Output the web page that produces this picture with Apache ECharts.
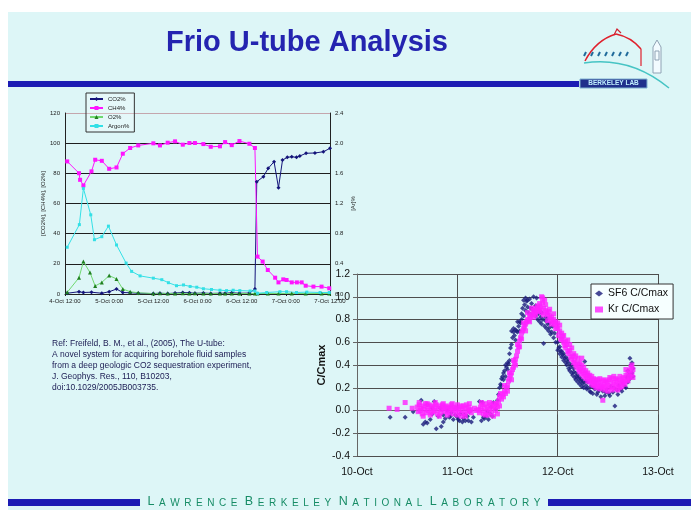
<!DOCTYPE html>
<html>
<head>
<meta charset="utf-8">
<title>Frio U-tube Analysis</title>
<script src="https://cdn.jsdelivr.net/npm/echarts@6/dist/echarts.min.js"></script>
<style>
  html, body { margin: 0; padding: 0; background: #ffffff; }
  #c { width: 691px; height: 510px; }
</style>
</head>
<body>
<div id="c"></div>
<script>
const FONT = '"Liberation Sans", Arial, Helvetica, sans-serif';

// ---- Gas composition from the U-tube, x = hours after 4-Oct 12:00 ----
const gasTickLabels = ['4-Oct 12:00', '5-Oct 0:00', '5-Oct 12:00', '6-Oct 0:00', '6-Oct 12:00', '7-Oct 0:00', '7-Oct 12:00'];

const co2Data = [
  [0.6, 0.5], [3.8, 1.5], [5.0, 1.0], [7.2, 1.2], [10.0, 0.5], [12.0, 1.5], [14.0, 3.3], [15.7, 1.0],
  [17.7, 0.8], [19.9, 0.5], [24.0, 0.3], [25.8, 0.5], [27.9, 0.3], [29.9, 0.6], [32.0, 1.0], [33.8, 0.8],
  [35.3, 0.5], [37.6, 0.6], [39.6, 0.4], [42.1, 0.5], [43.5, 0.5], [45.3, 0.8], [47.4, 0.5], [50.1, 0.6],
  [51.6, 3.3], [52.1, 74.4], [53.9, 77.8], [55.2, 83.3], [56.8, 87.7], [58.0, 70.5], [59.1, 88.8],
  [60.4, 90.6], [61.6, 91.0], [62.9, 90.6], [63.8, 91.5], [65.5, 93.3], [67.9, 93.5], [70.2, 94.3], [72.0, 96.6]
];

const ch4Data = [
  [0.6, 87.9], [3.8, 80.1], [4.1, 75.7], [5.0, 72.0], [7.2, 81.3], [8.2, 89.0], [10.0, 88.3], [12.0, 83.0],
  [14.0, 83.9], [15.7, 93.0], [17.7, 96.8], [19.9, 98.5], [24.0, 99.9], [25.8, 98.5], [27.9, 100.3],
  [29.9, 101.2], [32.0, 99.0], [33.8, 100.1], [35.3, 100.1], [37.6, 99.4], [39.6, 97.6], [42.1, 97.9],
  [43.5, 100.7], [45.3, 98.7], [47.4, 101.4], [50.1, 99.6], [51.6, 96.8], [52.3, 24.8], [53.7, 21.5],
  [55.1, 15.9], [57.1, 10.8], [58.0, 7.7], [59.3, 9.7], [60.2, 9.3], [61.6, 7.7], [63.0, 7.7], [64.3, 7.7],
  [65.4, 5.5], [67.5, 4.9], [69.7, 4.9], [71.8, 3.8]
];

const o2Data = [
  [0.6, 1.1], [3.8, 10.8], [5.0, 21.5], [6.8, 14.2], [8.2, 5.3], [10.0, 7.7], [12.0, 12.2], [14.0, 10.0],
  [15.7, 3.3], [17.7, 1.5], [19.9, 0.8], [24.0, 0.3], [25.8, 0.5], [27.9, 0.3], [29.9, 0.3], [32.0, 0.5],
  [33.8, 0.3], [35.3, 0.5], [37.6, 0.3], [39.6, 0.3], [42.1, 0.4], [43.5, 0.3], [45.3, 0.3], [47.4, 0.4],
  [50.1, 0.3], [51.6, 0.3], [52.3, 0.3], [55.1, 0.4], [58.0, 0.3], [61.6, 0.4], [65.4, 0.3], [69.7, 0.3], [71.8, 0.3]
];

// argon is read on the right-hand (percent) scale
const argonData = [
  [0.6, 0.62], [3.9, 0.92], [5.0, 1.40], [7.0, 1.05], [8.0, 0.72], [10.0, 0.76], [11.8, 0.90], [14.0, 0.65],
  [16.6, 0.41], [18.1, 0.30], [20.4, 0.24], [24.0, 0.21], [26.3, 0.19], [28.1, 0.15], [30.3, 0.11],
  [32.2, 0.12], [34.0, 0.10], [35.8, 0.09], [37.6, 0.07], [39.8, 0.06], [42.1, 0.05], [43.9, 0.045],
  [45.7, 0.05], [47.5, 0.045], [50.3, 0.04], [51.6, 0.04], [52.3, 0.01], [54.8, 0.02], [58.4, 0.03],
  [60.2, 0.03], [62.9, 0.02], [65.7, 0.025], [69.3, 0.02], [71.8, 0.02]
];

// ---- Tracer breakthrough, x = day of October ----
const tracerTickLabels = ['10-Oct', '11-Oct', '12-Oct', '13-Oct'];

const sf6Points = [
  [10.33, -0.06], [10.48, -0.06], [10.56, -0.01], [10.64, 0.09], [10.66, -0.12], [10.68, -0.10], [10.70, 0.05],
  [10.70, -0.11], [10.73, -0.08], [10.75, -0.03], [10.75, 0.02], [10.77, 0.08], [10.79, -0.16], [10.81, -0.05],
  [10.83, 0.02], [10.84, -0.14], [10.86, -0.04], [10.86, -0.10], [10.88, -0.07], [10.90, 0.00], [10.92, -0.06],
  [10.93, -0.05], [10.94, -0.02], [10.96, -0.08], [10.98, -0.04], [11.00, -0.06], [11.01, -0.08], [11.02, -0.09],
  [11.03, -0.03], [11.05, -0.10], [11.06, -0.07], [11.07, -0.04], [11.08, -0.09], [11.10, -0.05], [11.11, -0.09],
  [11.12, -0.01], [11.14, -0.10], [11.16, -0.06], [11.22, 0.08], [11.24, -0.09], [11.25, 0.07], [11.26, -0.06],
  [11.27, -0.07], [11.29, -0.05], [11.30, -0.01], [11.31, -0.08], [11.33, -0.03], [11.34, 0.03], [11.35, -0.05],
  [11.36, 0.07], [11.38, 0.01], [11.39, 0.05], [11.40, 0.09], [11.41, 0.14], [11.42, 0.20], [11.43, 0.23],
  [11.44, 0.28], [11.44, 0.22], [11.45, 0.30], [11.46, 0.27], [11.46, 0.33], [11.47, 0.35], [11.48, 0.40],
  [11.48, 0.30], [11.49, 0.38], [11.50, 0.42], [11.50, 0.36], [11.51, 0.41], [11.52, 0.50], [11.52, 0.44],
  [11.53, 0.55], [11.54, 0.58], [11.54, 0.70], [11.55, 0.64], [11.56, 0.69], [11.56, 0.72], [11.57, 0.66],
  [11.58, 0.71], [11.58, 0.62], [11.59, 0.70], [11.60, 0.69], [11.60, 0.78], [11.61, 0.74], [11.62, 0.78],
  [11.62, 0.70], [11.63, 0.77], [11.64, 0.85], [11.64, 0.80], [11.65, 0.90], [11.66, 0.97], [11.66, 0.83],
  [11.67, 0.93], [11.68, 0.88], [11.68, 0.99], [11.69, 0.96], [11.70, 0.91], [11.70, 0.97], [11.71, 0.86],
  [11.72, 0.98], [11.73, 0.90], [11.74, 0.84], [11.74, 0.94], [11.75, 0.89], [11.76, 1.00], [11.77, 0.87],
  [11.78, 0.83], [11.78, 0.92], [11.79, 0.99], [11.80, 0.80], [11.81, 0.85], [11.82, 0.78], [11.82, 0.88],
  [11.83, 0.82], [11.84, 0.76], [11.84, 0.86], [11.85, 0.80], [11.86, 0.59], [11.87, 0.74], [11.88, 0.79],
  [11.88, 0.82], [11.89, 0.72], [11.90, 0.76], [11.90, 0.81], [11.91, 0.70], [11.92, 0.73], [11.92, 0.77],
  [11.93, 0.67], [11.94, 0.69], [11.95, 0.74], [11.96, 0.64], [11.97, 0.68], [11.98, 0.60], [12.00, 0.53],
  [12.00, 0.60], [12.01, 0.55], [12.02, 0.50], [12.02, 0.56], [12.03, 0.52], [12.04, 0.47], [12.04, 0.52],
  [12.05, 0.49], [12.06, 0.44], [12.06, 0.50], [12.07, 0.46], [12.08, 0.42], [12.08, 0.47], [12.09, 0.40],
  [12.10, 0.43], [12.10, 0.45], [12.11, 0.37], [12.12, 0.35], [12.12, 0.41], [12.13, 0.38], [12.14, 0.33],
  [12.14, 0.40], [12.15, 0.31], [12.16, 0.34], [12.16, 0.37], [12.17, 0.29], [12.18, 0.27], [12.18, 0.33],
  [12.19, 0.30], [12.20, 0.25], [12.20, 0.31], [12.21, 0.28], [12.22, 0.23], [12.22, 0.29], [12.23, 0.26],
  [12.24, 0.21], [12.24, 0.27], [12.25, 0.24], [12.26, 0.20], [12.26, 0.25], [12.27, 0.43], [12.28, 0.22],
  [12.28, 0.26], [12.29, 0.19], [12.30, 0.25], [12.30, 0.20], [12.32, 0.17], [12.33, 0.21], [12.33, 0.16],
  [12.35, 0.15], [12.36, 0.20], [12.37, 0.19], [12.39, 0.14], [12.40, 0.16], [12.41, 0.18], [12.43, 0.12],
  [12.44, 0.20], [12.45, 0.17], [12.47, 0.13], [12.48, 0.16], [12.49, 0.19], [12.51, 0.15], [12.52, 0.13],
  [12.53, 0.21], [12.55, 0.16], [12.56, 0.20], [12.57, 0.04], [12.59, 0.18], [12.60, 0.14], [12.61, 0.22],
  [12.63, 0.19], [12.64, 0.17], [12.65, 0.24], [12.67, 0.21], [12.68, 0.20], [12.69, 0.29], [12.70, 0.35],
  [12.70, 0.25], [12.71, 0.31], [12.72, 0.46], [12.72, 0.28], [12.73, 0.40], [12.74, 0.33], [12.74, 0.42],
  [12.75, 0.37], [12.75, 0.30]
];

const krPoints = [
  [10.32, 0.02], [10.40, 0.01], [10.48, 0.07], [10.55, 0.02],
  [10.60, 0.03], [10.61, -0.01], [10.62, 0.05], [10.62, 0.07], [10.63, 0.00], [10.64, 0.02], [10.65, -0.03],
  [10.66, 0.04], [10.66, -0.05], [10.67, 0.01], [10.68, 0.06], [10.69, -0.02], [10.70, 0.03], [10.70, 0.06],
  [10.71, 0.00], [10.72, 0.05], [10.73, -0.04], [10.74, 0.02], [10.74, -0.02], [10.75, 0.04], [10.76, -0.01],
  [10.77, 0.03], [10.78, 0.00], [10.78, 0.07], [10.79, 0.05], [10.80, -0.03], [10.81, 0.02], [10.82, 0.04],
  [10.82, -0.05], [10.83, -0.02], [10.84, 0.01], [10.85, 0.05], [10.86, 0.03], [10.86, 0.06], [10.87, -0.01],
  [10.88, 0.02], [10.89, 0.04], [10.90, 0.00], [10.90, -0.04], [10.91, 0.03], [10.92, -0.02], [10.93, 0.02],
  [10.94, 0.05], [10.95, 0.01], [10.95, 0.06], [10.96, -0.03], [10.97, 0.03], [10.98, 0.00], [10.99, 0.02],
  [11.00, -0.04], [11.00, 0.05], [11.01, 0.01], [11.02, -0.02], [11.03, 0.03], [11.04, -0.05], [11.04, 0.04],
  [11.05, 0.00], [11.06, 0.04], [11.07, -0.03], [11.08, 0.02], [11.08, -0.05], [11.09, 0.05], [11.10, -0.01],
  [11.11, 0.03], [11.12, 0.06], [11.12, 0.00], [11.13, 0.01], [11.14, -0.02], [11.17, 0.02], [11.19, 0.00],
  [11.21, 0.01], [11.22, -0.02], [11.23, 0.03], [11.24, 0.00], [11.24, 0.07], [11.25, 0.05], [11.26, -0.03],
  [11.27, 0.02], [11.28, 0.06], [11.28, -0.04], [11.29, -0.01], [11.30, 0.03], [11.31, -0.04], [11.32, 0.01],
  [11.32, 0.07], [11.33, 0.05], [11.34, -0.02], [11.35, 0.02], [11.36, -0.05], [11.36, 0.06], [11.37, 0.04],
  [11.38, 0.00], [11.39, 0.06], [11.40, 0.03], [11.40, -0.03], [11.41, 0.08], [11.42, 0.12], [11.42, 0.04],
  [11.43, 0.15], [11.44, 0.10], [11.45, 0.14], [11.46, 0.12], [11.47, 0.17], [11.47, 0.22], [11.48, 0.15],
  [11.49, 0.20], [11.50, 0.22], [11.50, 0.17], [11.51, 0.26], [11.52, 0.28], [11.52, 0.33], [11.53, 0.31],
  [11.54, 0.33], [11.54, 0.27], [11.55, 0.36], [11.56, 0.38], [11.56, 0.44], [11.57, 0.42], [11.58, 0.45],
  [11.58, 0.40], [11.59, 0.48], [11.60, 0.52], [11.60, 0.58], [11.61, 0.56], [11.62, 0.61], [11.62, 0.56],
  [11.63, 0.64], [11.64, 0.68], [11.64, 0.63], [11.65, 0.70], [11.66, 0.72], [11.66, 0.77], [11.67, 0.74],
  [11.68, 0.76], [11.68, 0.70], [11.69, 0.78], [11.70, 0.80], [11.70, 0.86], [11.71, 0.79], [11.72, 0.83],
  [11.72, 0.78], [11.73, 0.82], [11.74, 0.85], [11.74, 0.90], [11.75, 0.84], [11.76, 0.88], [11.76, 0.82],
  [11.77, 0.86], [11.78, 0.90], [11.78, 0.84], [11.79, 0.88], [11.80, 0.92], [11.80, 0.87], [11.81, 0.90],
  [11.82, 0.94], [11.82, 0.88], [11.83, 0.91], [11.84, 1.00], [11.84, 0.86], [11.85, 0.95], [11.85, 0.99],
  [11.86, 0.90], [11.86, 0.84], [11.87, 0.97], [11.88, 0.88], [11.88, 0.93], [11.89, 0.86], [11.90, 0.84],
  [11.90, 0.79], [11.91, 0.87], [11.92, 0.83], [11.92, 0.89], [11.93, 0.80], [11.94, 0.82], [11.94, 0.76],
  [11.95, 0.78], [11.96, 0.80], [11.96, 0.85], [11.97, 0.76], [11.98, 0.78], [11.98, 0.72], [11.99, 0.74],
  [12.00, 0.72], [12.00, 0.77], [12.01, 0.66], [12.02, 0.70], [12.02, 0.75], [12.03, 0.63], [12.04, 0.62],
  [12.04, 0.68], [12.05, 0.65], [12.06, 0.60], [12.06, 0.66], [12.07, 0.57], [12.08, 0.55], [12.08, 0.61],
  [12.09, 0.58], [12.10, 0.52], [12.10, 0.62], [12.11, 0.50], [12.12, 0.53], [12.12, 0.58], [12.13, 0.47],
  [12.14, 0.45], [12.14, 0.55], [12.15, 0.48], [12.16, 0.42], [12.16, 0.50], [12.17, 0.44], [12.18, 0.40],
  [12.18, 0.48], [12.19, 0.38], [12.20, 0.41], [12.20, 0.46], [12.21, 0.36], [12.22, 0.34], [12.22, 0.42],
  [12.23, 0.37], [12.24, 0.46], [12.24, 0.32], [12.24, 0.40], [12.25, 0.35], [12.26, 0.30], [12.26, 0.38],
  [12.27, 0.33], [12.28, 0.28], [12.28, 0.35], [12.29, 0.31], [12.30, 0.26], [12.30, 0.33], [12.31, 0.29],
  [12.32, 0.25], [12.32, 0.31], [12.33, 0.27], [12.34, 0.23], [12.34, 0.30], [12.35, 0.26], [12.36, 0.22],
  [12.36, 0.28], [12.37, 0.24], [12.38, 0.20], [12.38, 0.27], [12.39, 0.23], [12.40, 0.21], [12.40, 0.27],
  [12.41, 0.25], [12.42, 0.19], [12.42, 0.28], [12.43, 0.22], [12.44, 0.26], [12.44, 0.21], [12.45, 0.09],
  [12.45, 0.20], [12.46, 0.23], [12.46, 0.27], [12.47, 0.18], [12.48, 0.21], [12.48, 0.26], [12.49, 0.25],
  [12.50, 0.22], [12.50, 0.17], [12.51, 0.27], [12.52, 0.20], [12.52, 0.29], [12.53, 0.24], [12.54, 0.28],
  [12.54, 0.18], [12.55, 0.21], [12.56, 0.25], [12.56, 0.30], [12.57, 0.19], [12.58, 0.23], [12.58, 0.28],
  [12.59, 0.27], [12.60, 0.22], [12.60, 0.18], [12.61, 0.26], [12.62, 0.20], [12.62, 0.30], [12.63, 0.24],
  [12.64, 0.28], [12.64, 0.21], [12.65, 0.25], [12.66, 0.29], [12.66, 0.25], [12.67, 0.23], [12.68, 0.31],
  [12.68, 0.36], [12.69, 0.27], [12.70, 0.33], [12.70, 0.26], [12.71, 0.29], [12.72, 0.35], [12.72, 0.30],
  [12.73, 0.38], [12.74, 0.32], [12.74, 0.40], [12.75, 0.36], [12.75, 0.29]
];

const referenceLines = [
  'Ref: Freifeld, B. M., et al., (2005), The U-tube:',
  'A novel system for acquiring borehole fluid samples',
  'from a deep geologic CO2 sequestration experiment,',
  'J. Geophys. Res., 110, B10203,',
  'doi:10.1029/2005JB003735.'
];

const footerWords = ['LAWRENCE', 'BERKELEY', 'NATIONAL', 'LABORATORY'];

// small-caps lettering with wide tracking, built as rich text
function trackedCaps(words) {
  return words.map(w =>
    '{c|' + w[0] + '}' + w.slice(1).split('').map(ch => '{g|  }{s|' + ch + '}').join('')
  ).join('{w|   }');
}

// window slashes under the dome of the lab logo
function logoWindows() {
  const out = [];
  for (let i = 0; i < 7; i++) {
    const x = 584 + i * 7;
    out.push({ type: 'line', shape: { x1: x, y1: 56, x2: x + 2, y2: 52 }, style: { stroke: '#1f6a9a', lineWidth: 2 }, silent: true });
  }
  return out;
}

const chart = echarts.init(document.getElementById('c'), null, { renderer: 'canvas' });

const C_CO2 = '#14147a', C_CH4 = '#ff14ff', C_O2_LINE = '#6fd86f', C_O2 = '#1f7f1f', C_AR = '#33e0e6';
const C_SF6 = '#1b1b7c', C_KR = '#ff22ff';

const option = {
  backgroundColor: '#ddf6f7',
  animation: false,
  textStyle: { fontFamily: FONT },
  grid: [
    { left: 65, top: 113, width: 265, height: 181 },
    { left: 357, top: 274, width: 301, height: 182 }
  ],
  legend: [
    {
      data: ['CO2%', 'CH4%', 'O2%', 'Argon%'],
      orient: 'vertical', left: 86, top: 93,
      itemWidth: 13, itemHeight: 5, itemGap: 3, padding: [3, 5, 3, 3],
      borderColor: '#333', borderWidth: 1, backgroundColor: 'rgba(255,255,255,0.25)',
      textStyle: { fontSize: 6, color: '#222', fontFamily: FONT },
      selectedMode: false
    },
    {
      data: ['SF6 C/Cmax', 'Kr C/Cmax'],
      orient: 'vertical', left: 591, top: 284,
      itemWidth: 8, itemHeight: 6, itemGap: 5, padding: [4, 5, 4, 4],
      borderColor: '#333', borderWidth: 1, backgroundColor: '#f6ffff',
      textStyle: { fontSize: 10.5, color: '#111', fontFamily: FONT },
      selectedMode: false
    }
  ],
  xAxis: [
    {
      gridIndex: 0, type: 'value', min: 0, max: 72, interval: 12,
      axisLine: { lineStyle: { color: '#222' } },
      axisTick: { length: 2, lineStyle: { color: '#222' } },
      splitLine: { show: false },
      axisLabel: { fontSize: 6, color: '#222', margin: 4, formatter: v => gasTickLabels[Math.round(v / 12)] }
    },
    {
      gridIndex: 1, type: 'value', min: 10, max: 13, interval: 1,
      axisLine: { lineStyle: { color: '#666' } },
      axisTick: { length: 4, lineStyle: { color: '#666' } },
      splitLine: { show: true, lineStyle: { color: '#4d4d4d' } },
      axisLabel: { fontSize: 10.5, color: '#111', margin: 11, formatter: v => tracerTickLabels[Math.round(v - 10)] }
    }
  ],
  yAxis: [
    {
      gridIndex: 0, type: 'value', min: 0, max: 120, interval: 20, position: 'left',
      name: '[CO2%], [CH4%], [O2%]', nameLocation: 'middle', nameGap: 19,
      nameTextStyle: { fontSize: 6, color: '#222' },
      axisLine: { show: true, lineStyle: { color: '#222' } },
      axisTick: { show: false },
      splitLine: { show: true, lineStyle: { color: ['#1e1e1e', '#1e1e1e', '#1e1e1e', '#1e1e1e', '#1e1e1e', '#1e1e1e', '#c4a6ad'] } },
      axisLabel: { fontSize: 6, color: '#222', margin: 5 }
    },
    {
      gridIndex: 0, type: 'value', min: 0, max: 2.4, interval: 0.4, position: 'right',
      name: '[Ar]%', nameLocation: 'middle', nameGap: 20,
      nameTextStyle: { fontSize: 6, color: '#222' },
      axisLine: { show: true, lineStyle: { color: '#222' } },
      axisTick: { show: false },
      splitLine: { show: false },
      axisLabel: { fontSize: 6, color: '#222', margin: 5, formatter: v => v.toFixed(1) }
    },
    {
      gridIndex: 1, type: 'value', min: -0.4, max: 1.2, interval: 0.2,
      name: 'C/Cmax', nameLocation: 'middle', nameGap: 30,
      nameTextStyle: { fontSize: 11, fontWeight: 'bold', color: '#111' },
      axisLine: { show: true, lineStyle: { color: '#666' } },
      axisTick: { show: true, length: 4, lineStyle: { color: '#666' } },
      splitLine: { show: true, lineStyle: { color: '#4d4d4d' } },
      axisLabel: { fontSize: 10.5, color: '#111', margin: 7, formatter: v => v.toFixed(1) }
    }
  ],
  series: [
    {
      name: 'CO2%', type: 'line', xAxisIndex: 0, yAxisIndex: 0, data: co2Data,
      symbol: 'diamond', symbolSize: 4, showAllSymbol: true,
      lineStyle: { width: 1, color: C_CO2 }, itemStyle: { color: C_CO2 }
    },
    {
      name: 'CH4%', type: 'line', xAxisIndex: 0, yAxisIndex: 0, data: ch4Data,
      symbol: 'rect', symbolSize: 4, showAllSymbol: true,
      lineStyle: { width: 1, color: C_CH4 }, itemStyle: { color: C_CH4 }
    },
    {
      name: 'O2%', type: 'line', xAxisIndex: 0, yAxisIndex: 0, data: o2Data,
      symbol: 'triangle', symbolSize: 4, showAllSymbol: true,
      lineStyle: { width: 1, color: C_O2_LINE }, itemStyle: { color: C_O2 }
    },
    {
      name: 'Argon%', type: 'line', xAxisIndex: 0, yAxisIndex: 1, data: argonData,
      symbol: 'rect', symbolSize: 3, showAllSymbol: true,
      lineStyle: { width: 1, color: C_AR }, itemStyle: { color: C_AR }
    },
    {
      name: 'SF6 C/Cmax', type: 'scatter', xAxisIndex: 1, yAxisIndex: 2, data: sf6Points,
      symbol: 'diamond', symbolSize: 5, itemStyle: { color: C_SF6 }
    },
    {
      name: 'Kr C/Cmax', type: 'scatter', xAxisIndex: 1, yAxisIndex: 2, data: krPoints,
      symbol: 'rect', symbolSize: 5, itemStyle: { color: C_KR }
    }
  ],
  graphic: [
    // white page margins around the slide
    { type: 'rect', shape: { x: 0, y: 0, width: 691, height: 12 }, style: { fill: '#ffffff' }, silent: true },
    { type: 'rect', shape: { x: 0, y: 0, width: 8, height: 510 }, style: { fill: '#ffffff' }, silent: true },
    // title
    {
      type: 'text', x: 307, y: 43,
      style: { text: 'Frio U-tube Analysis', fill: '#2424b0', font: 'bold 29px ' + FONT, textAlign: 'center', textVerticalAlign: 'middle' }
    },
    // header rule and lab badge
    { type: 'rect', shape: { x: 8, y: 81, width: 571, height: 6 }, style: { fill: '#1c1cb4' }, silent: true },
    { type: 'rect', shape: { x: 580, y: 79, width: 67, height: 9 }, style: { fill: '#20308c', stroke: '#7fb0d0', lineWidth: 1 }, silent: true },
    {
      type: 'text', x: 613.5, y: 83.5,
      style: { text: 'BERKELEY LAB', fill: '#c0f0ff', font: 'bold 6.5px ' + FONT, textAlign: 'center', textVerticalAlign: 'middle' }
    },
    // lab logo: dome, windows, hillside and tower
    { type: 'bezierCurve', shape: { x1: 585, y1: 61, cpx1: 596, cpy1: 40, x2: 616, y2: 34 }, style: { fill: 'none', stroke: '#e0202c', lineWidth: 1.5 }, silent: true },
    { type: 'bezierCurve', shape: { x1: 616, y1: 34, cpx1: 631, cpy1: 37, x2: 641, y2: 49 }, style: { fill: 'none', stroke: '#e0202c', lineWidth: 1.5 }, silent: true },
    { type: 'line', shape: { x1: 641, y1: 49, x2: 641, y2: 66 }, style: { stroke: '#e0202c', lineWidth: 1.2 }, silent: true },
    { type: 'polyline', shape: { points: [[614, 35], [617, 29], [621, 33]] }, style: { fill: 'none', stroke: '#d02030', lineWidth: 1.2 }, silent: true },
    ...logoWindows(),
    { type: 'bezierCurve', shape: { x1: 584, y1: 63, cpx1: 630, cpy1: 56, x2: 669, y2: 88 }, style: { fill: 'none', stroke: '#46c4c4', lineWidth: 1.5 }, silent: true },
    { type: 'polygon', shape: { points: [[653, 73], [653, 47], [657, 40], [661, 47], [661, 73]] }, style: { fill: '#f2fbff', stroke: '#8fa2b4', lineWidth: 1 }, silent: true },
    { type: 'rect', shape: { x: 655, y: 51, width: 4, height: 9 }, style: { fill: 'none', stroke: '#8fa2b4', lineWidth: 1 }, silent: true },
    // citation block
    {
      type: 'text', x: 52, y: 338,
      style: { text: referenceLines.join('\n'), fill: '#1b1b52', font: '8.5px ' + FONT, lineHeight: 11 }
    },
    // footer rule and lettering
    { type: 'rect', shape: { x: 8, y: 499, width: 132, height: 7 }, style: { fill: '#1c1cb4' }, silent: true },
    { type: 'rect', shape: { x: 548, y: 499, width: 143, height: 7 }, style: { fill: '#1c1cb4' }, silent: true },
    {
      type: 'text', x: 344, y: 508,
      style: {
        text: trackedCaps(footerWords), textAlign: 'center', textVerticalAlign: 'bottom',
        rich: {
          c: { fontSize: 12.5, fontFamily: FONT, fill: '#178c66', verticalAlign: 'bottom' },
          s: { fontSize: 10, fontFamily: FONT, fill: '#178c66', verticalAlign: 'bottom' },
          g: { fontSize: 8.2, fontFamily: FONT, verticalAlign: 'bottom' },
          w: { fontSize: 9, fontFamily: FONT, verticalAlign: 'bottom' }
        }
      }
    }
  ]
};

chart.setOption(option);
</script>
</body>
</html>
